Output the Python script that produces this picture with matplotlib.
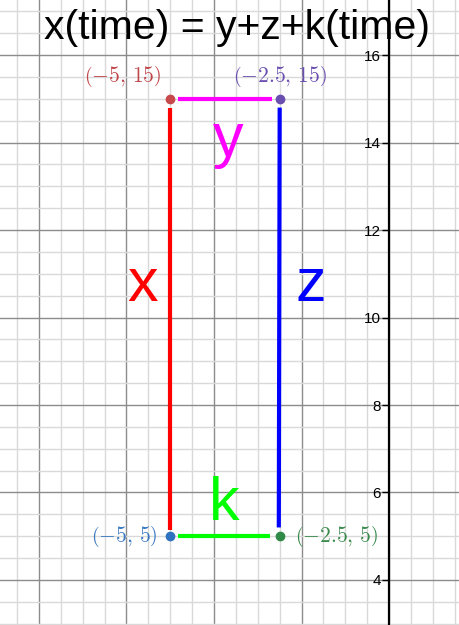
import matplotlib
matplotlib.use("Agg")
import matplotlib.pyplot as plt
import numpy as np

plt.rcParams['mathtext.fontset'] = 'cm'

# Data
points_x = [-5, -2.5, -5, -2.5]
points_y = [15, 15, 5, 5]
point_labels = [r'$\left(-5,\,15\right)$', r'$\left(-2.5,\,15\right)$',
                r'$\left(-5,\,5\right)$', r'$\left(-2.5,\,5\right)$']
point_colors = ['#c8494c', '#6a4fb0', '#2f72c0', '#2f8a48']
label_colors = ['#c0464a', '#6a4fb0', '#3a78c0', '#3a8a4c']

segments = {
    'x': ((-5, 14.8), (-5, 5.15)),
    'z': ((-2.5, 14.8), (-2.52, 5.2)),
    'y': ((-4.82, 15), (-2.67, 15)),
    'k': ((-4.82, 5), (-2.72, 5)),
}
seg_colors = {'x': '#ff0000', 'z': '#0000ff', 'y': '#ff00ff', 'k': '#00ff00'}
letter_pos = {'x': (-5.62, 10.74), 'z': (-1.78, 10.74), 'y': (-3.68, 14.05), 'k': (-3.77, 5.72)}

y_ticks = [4, 6, 8, 10, 12, 14, 16]
title = 'x(time) = y+z+k(time)'

fig = plt.figure(figsize=(4.6, 6.25), dpi=100)
ax = fig.add_axes([0, 0, 1, 1])

ax.set_xticks(np.arange(-8, 2.01, 2))
ax.set_xticks(np.arange(-9, 2.01, 0.5), minor=True)
ax.set_yticks(y_ticks)
ax.set_yticks(np.arange(2.5, 17.6, 0.5), minor=True)
ax.set_xlim(-8.89, 1.62)
ax.set_ylim(2.97, 17.26)
ax.grid(which='minor', color='#d9d9d9', lw=1, zorder=0)
ax.grid(which='major', color='#8c8c8c', lw=1, zorder=0)
ax.set_axisbelow(True)

for s in ['top', 'right', 'bottom']:
    ax.spines[s].set_visible(False)
ax.spines['left'].set_position(('data', 0))
ax.spines['left'].set_linewidth(1.6)
ax.spines['left'].set_color('black')
ax.tick_params(axis='x', which='both', length=0, labelbottom=False)
ax.tick_params(axis='y', which='minor', length=0)
ax.tick_params(axis='y', which='major', direction='out', length=5, width=1,
               pad=1, labelsize=11, colors='black')
for lbl in ax.get_yticklabels():
    lbl.set_fontfamily('Liberation Sans')

for key, ((x0, y0), (x1, y1)) in segments.items():
    ax.plot([x0, x1], [y0, y1], color=seg_colors[key], lw=3, solid_capstyle='butt', zorder=3)
    lx, ly = letter_pos[key]
    ax.text(lx, ly, key, color=seg_colors[key], fontsize=44, family='Liberation Sans',
            ha='center', va='center', zorder=4)

for px, py, c in zip(points_x, points_y, point_colors):
    ax.plot(px, py, 'o', color=c, ms=6, zorder=5)

offsets = [(-1.08, 0.5, 'center'), (0.0, 0.5, 'center'), (-0.3, 0.0, 'right'), (0.35, 0.0, 'left')]
for (px, py, t, c, (dx, dy, ha)) in zip(points_x, points_y, point_labels, label_colors, offsets):
    ax.text(px + dx, py + dy, t, color=c, fontsize=15.5, ha=ha, va='center', zorder=5)

ax.text(0.515, 0.955, title, transform=ax.transAxes, fontsize=29.5, family='Liberation Sans',
        ha='center', va='center', color='black', zorder=6)

fig.savefig('out.png', dpi=100)
